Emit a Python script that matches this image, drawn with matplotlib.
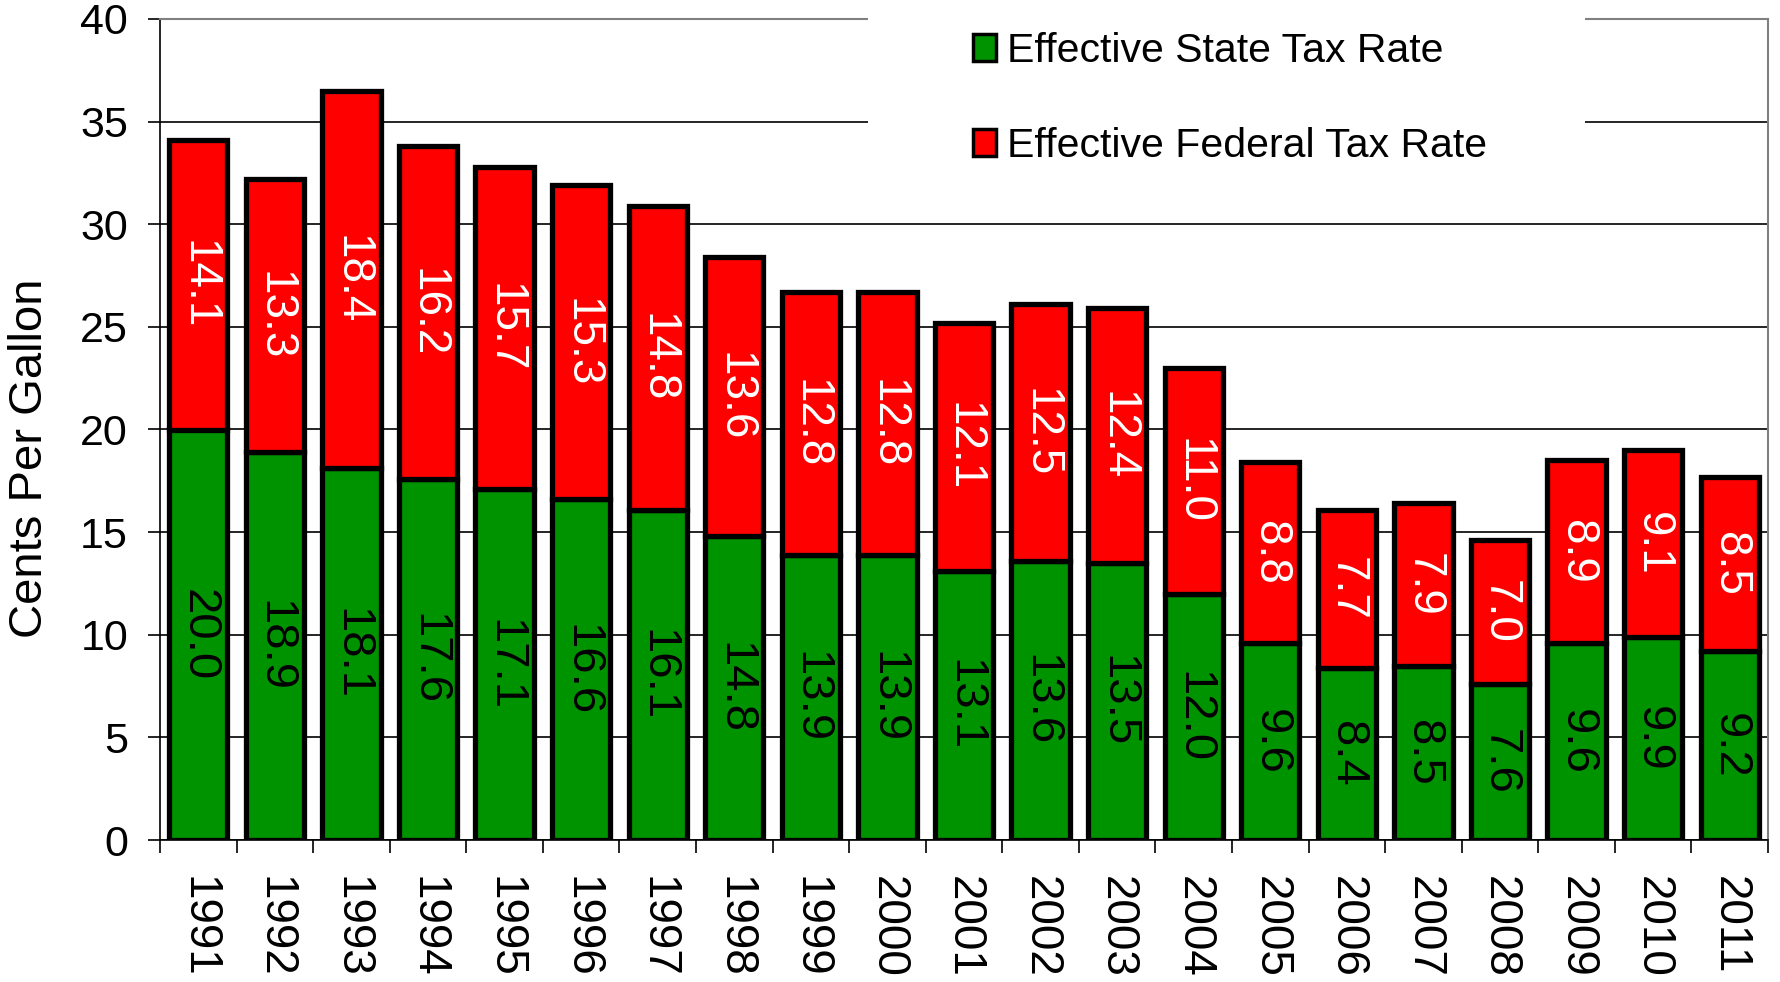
import numpy as np
import matplotlib as mpl
mpl.use("Agg")
import matplotlib.pyplot as plt
from matplotlib.patches import Patch, Rectangle

years = [str(y) for y in range(1991, 2012)]
state = [20.0, 18.9, 18.1, 17.6, 17.1, 16.6, 16.1, 14.8, 13.9, 13.9, 13.1,
         13.6, 13.5, 12.0, 9.6, 8.4, 8.5, 7.6, 9.6, 9.9, 9.2]
federal = [14.1, 13.3, 18.4, 16.2, 15.7, 15.3, 14.8, 13.6, 12.8, 12.8, 12.1,
           12.5, 12.4, 11.0, 8.8, 7.7, 7.9, 7.0, 8.9, 9.1, 8.5]
yticks = [0, 5, 10, 15, 20, 25, 30, 35, 40]

green = '#009300'
red = '#ff0000'

plt.rcParams['font.family'] = ['Liberation Sans', 'DejaVu Sans']

fig = plt.figure(figsize=(17.81, 9.82), dpi=100)
ax = fig.add_axes([160/1781, 1 - 840/982, 1608/1781, 821/982])

x = np.arange(len(years))
b1 = ax.bar(x, state, width=0.76, color=green, edgecolor='black', linewidth=3.8, zorder=3)
b2 = ax.bar(x, federal, bottom=state, width=0.76, color=red, edgecolor='black', linewidth=3.8, zorder=3)

ax.bar_label(b1, fmt='%.1f', label_type='center', rotation=-90, fontsize=34, color='black')
ax.bar_label(b2, fmt='%.1f', label_type='center', rotation=-90, fontsize=33, color='white')

ax.set_xlim(-0.5, len(years) - 0.5)
ax.set_ylim(0, 40)
ax.set_yticks(yticks)
ax.set_xticks(x)
ax.set_xticklabels(years, rotation=-90, fontsize=33)
ax.set_xticks(np.arange(-0.5, len(years), 1), minor=True)
ax.tick_params(axis='x', which='major', length=0, pad=26)
ax.tick_params(axis='x', which='minor', length=9, width=1.2, direction='out')
ax.tick_params(axis='y', length=9, width=1.2, direction='out', labelsize=31, pad=14)

ax.yaxis.grid(True, color='black', linewidth=1.2)
ax.set_axisbelow(True)
for s in ['top', 'right']:
    ax.spines[s].set_color('#808080')
    ax.spines[s].set_linewidth(1.5)
ax.spines['left'].set_linewidth(1.2)
ax.spines['bottom'].set_linewidth(1.2)

ax.set_ylabel('Cents Per Gallon', fontsize=34)
ax.yaxis.label.set_va('center')
ax.yaxis.set_label_coords(-0.081, 0.465)

# white box behind the legend hides the grid lines
ax.add_patch(Rectangle((0.44, 0.81), 0.446, 0.22, transform=ax.transAxes,
                       facecolor='white', edgecolor='none', zorder=4, clip_on=False))

handles = [Patch(facecolor=green, edgecolor='black', linewidth=2.5),
           Patch(facecolor=red, edgecolor='black', linewidth=2.5)]
fig.legend(handles, ['Effective State Tax Rate', 'Effective Federal Tax Rate'],
           loc='upper left', bbox_to_anchor=(973/1781, 1 - 32/982), frameon=False,
           fontsize=29.5, handlelength=0.56, handleheight=0.63, handletextpad=0.27,
           labelspacing=1.38, borderpad=0, borderaxespad=0)

fig.savefig('out.png', dpi=100)
